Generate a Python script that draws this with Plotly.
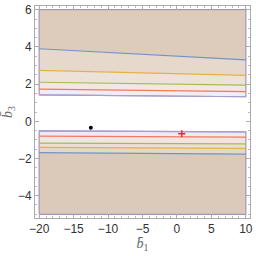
import plotly.graph_objects as go

# x extent of the regions
x_ends = [-20, 10]

# upper region boundaries (value at x=-20, value at x=10)
upper_top = [6, 6]
up_blue = [3.9, 3.3]
up_orange = [2.74, 2.47]
up_green = [2.1, 1.95]
up_red = [1.73, 1.6]
up_purple = [1.42, 1.32]

# lower region boundaries
low_purple = [-0.51, -0.57]
low_red = [-0.8, -0.85]
low_green = [-1.17, -1.21]
low_orange = [-1.4, -1.46]
low_blue = [-1.68, -1.77]
lower_bottom = [-5, -5]

# points
dot_x, dot_y = [-12.5], [-0.35]
star_x, star_y = [0.7], [-0.67]

x_ticks = [-20, -15, -10, -5, 0, 5, 10]
y_ticks = [-4, -2, 0, 2, 4, 6]

line_colors = {
    "blue": "#7393C6",
    "orange": "#EAAE48",
    "green": "#A0BD55",
    "red": "#F07C58",
    "purple": "#A89ED2",
}

fig = go.Figure()


def band(lo, hi, color):
    xs = x_ends + x_ends[::-1]
    ys = lo + hi[::-1]
    fig.add_trace(go.Scatter(x=xs, y=ys, fill="toself", fillcolor=color,
                             mode="lines", line=dict(width=0),
                             hoverinfo="skip", showlegend=False))


# upper bands
band(up_purple, up_red, "#F2EDF4")
band(up_red, up_green, "#F3E6E4")
band(up_green, up_orange, "#EDE2D8")
band(up_orange, up_blue, "#E6D9CC")
band(up_blue, upper_top, "#DDCCBC")
# lower bands
band(low_red, low_purple, "#EEEAF4")
band(low_green, low_red, "#F1E4E3")
band(low_orange, low_green, "#EBE0D6")
band(low_blue, low_orange, "#E5D8CB")
band(lower_bottom, low_blue, "#DBCABA")

# region outlines
for lo, hi in [(up_purple, upper_top), (lower_bottom, low_purple)]:
    xs = x_ends + x_ends[::-1] + [x_ends[0]]
    ys = lo + hi[::-1] + [lo[0]]
    fig.add_trace(go.Scatter(x=xs, y=ys, mode="lines",
                             line=dict(color="#A495BA", width=1.2),
                             hoverinfo="skip", showlegend=False))

# boundary lines
for ys, c in [(up_blue, "blue"), (up_orange, "orange"), (up_green, "green"),
              (up_red, "red"), (up_purple, "purple"),
              (low_purple, "purple"), (low_red, "red"), (low_green, "green"),
              (low_orange, "orange"), (low_blue, "blue")]:
    fig.add_trace(go.Scatter(x=x_ends, y=ys, mode="lines",
                             line=dict(color=line_colors[c], width=1.2),
                             showlegend=False))

fig.add_trace(go.Scatter(x=dot_x, y=dot_y, mode="markers",
                         marker=dict(color="black", size=4), showlegend=False))
fig.add_trace(go.Scatter(x=star_x, y=star_y, mode="markers",
                         marker=dict(color="#E8202A", size=5, symbol="cross-thin",
                                     line=dict(color="#E8202A", width=1.3)),
                         showlegend=False))

axis_common = dict(
    showgrid=False, zeroline=False, showline=True, linecolor="#AAAAAA",
    linewidth=1, mirror="allticks", ticks="inside", ticklen=4,
    tickcolor="#AAAAAA", tickfont=dict(family="Liberation Sans, Arial", size=12,
                                       color="#333333"),
)

fig.update_xaxes(range=[-20.6, 10.6], tickvals=x_ticks,
                 ticktext=["\u221220", "\u221215", "\u221210", "\u22125", "0", "5", "10"],
                 minor=dict(ticks="inside", ticklen=2, dtick=1, tickcolor="#BBBBBB"),
                 title=dict(text="<i>b\u0304</i><sub>1</sub>", standoff=2,
                            font=dict(family="Liberation Serif", size=14, color="#666666")),
                 **axis_common)
fig.update_yaxes(range=[-5.2, 6.2], tickvals=y_ticks,
                 ticktext=["\u22124", "\u22122", "0", "2", "4", "6"],
                 minor=dict(ticks="inside", ticklen=2, dtick=0.5, tickcolor="#BBBBBB"),
                 title=dict(text="<i>b\u0304</i><sub>3</sub>", standoff=4,
                            font=dict(family="Liberation Serif", size=14, color="#666666")),
                 **axis_common)

fig.update_layout(width=256, height=256,
                  margin=dict(l=35, r=3, t=3, b=38),
                  plot_bgcolor="white", paper_bgcolor="white")

fig.write_html("out.html", config={"displayModeBar": False},
               post_script="document.body.style.margin='0';document.body.style.overflow='hidden';")
